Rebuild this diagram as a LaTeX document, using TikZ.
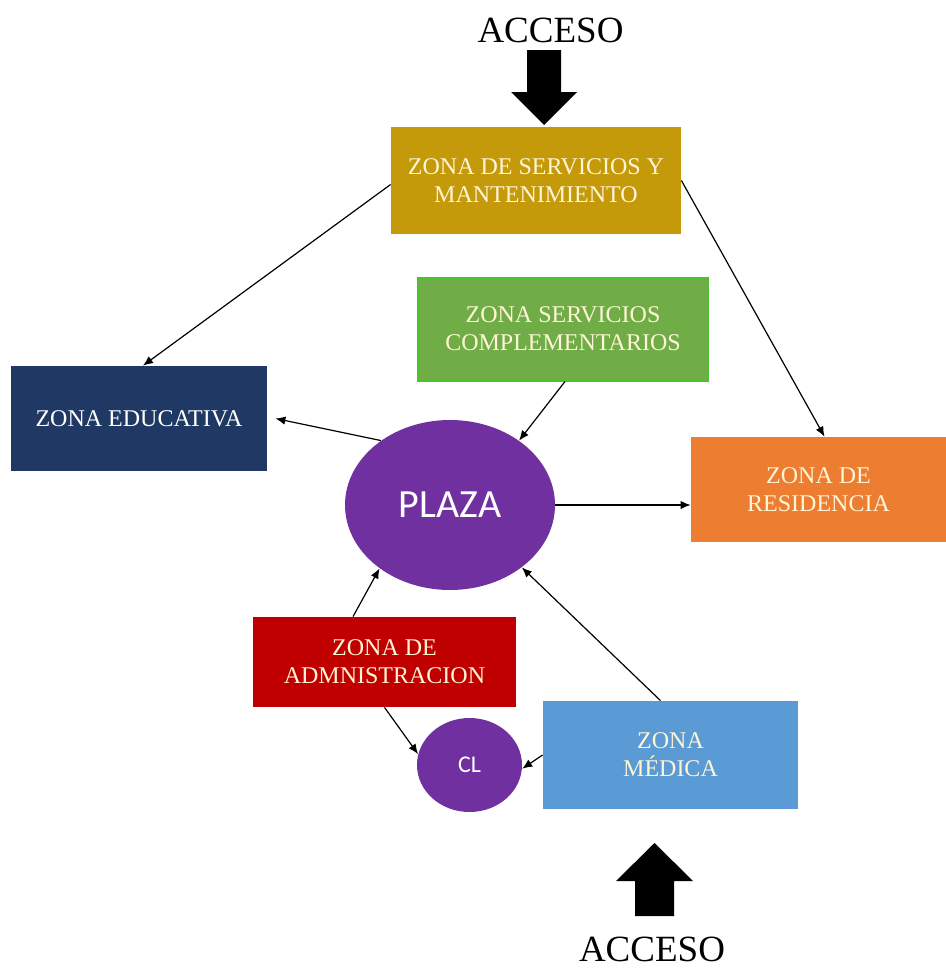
\documentclass[tikz,border=0pt]{standalone}
\usepackage{fontspec}
\setmainfont{Liberation Serif}
\newfontfamily\plazafont{Carlito}
\usetikzlibrary{shapes.geometric,arrows.meta}

\definecolor{zgold}{HTML}{C49A0A}
\definecolor{zgreen}{HTML}{70AD47}
\definecolor{zgreenline}{HTML}{4EC22E}
\definecolor{znavy}{HTML}{203864}
\definecolor{zorange}{HTML}{ED7D31}
\definecolor{zred}{HTML}{C00000}
\definecolor{zblue}{HTML}{5B9BD5}
\definecolor{zpurple}{HTML}{7030A0}
\definecolor{ztext}{HTML}{FFF4D6}

\tikzset{
  zone/.style={rectangle, draw=none, inner sep=0pt, align=center,
    text=ztext, font=\fontsize{12}{14}\selectfont},
  hub/.style={ellipse, fill=zpurple, draw=none, inner sep=0pt,
    text=white},
  link/.style={draw=black, line width=0.6pt,
    -{Latex[length=5pt,width=4.2pt]}},
  access/.style={fill=black},
  accesstext/.style={font=\fontsize{18.5}{20}\selectfont, anchor=base}
}

\begin{document}
\begin{tikzpicture}[x=0.5pt, y=-0.5pt]
  \useasboundingbox (0,0) rectangle (946,969);

  % zones
  \node[zone, fill=zgold, minimum width=145pt, minimum height=53.5pt]
    (serv) at (536,180.5) {ZONA DE SERVICIOS Y\\MANTENIMIENTO};
  \node[zone, fill=zgreen, draw=zgreenline, line width=1pt,
    minimum width=145pt, minimum height=51.5pt]
    (comp) at (563,329) {ZONA SERVICIOS\\COMPLEMENTARIOS};
  \node[zone, fill=znavy, text=white, minimum width=128pt, minimum height=52.5pt]
    (edu) at (139,418.5) {ZONA EDUCATIVA};
  \node[zone, fill=zorange, minimum width=127.5pt, minimum height=52.5pt]
    (res) at (818.5,489.5) {ZONA DE\\RESIDENCIA};
  \node[zone, fill=zred, minimum width=131.5pt, minimum height=45pt]
    (adm) at (384.5,662) {ZONA DE\\ADMNISTRACION};
  \node[zone, fill=zblue, minimum width=127.5pt, minimum height=54pt]
    (med) at (670.5,755) {ZONA\\MÉDICA};

  % hubs
  \node[hub, minimum width=105pt, minimum height=85pt,
    font=\plazafont\fontsize{20}{22}\selectfont] (plaza) at (450,505) {PLAZA};
  \node[hub, minimum width=52.5pt, minimum height=47pt,
    font=\plazafont\fontsize{12}{13}\selectfont] (cl) at (469.5,765) {CL};

  % links
  \draw[link] ([yshift=-2pt]serv.west) -- ([xshift=2pt]edu.north);
  \draw[link] (serv.east) -- ([xshift=3pt]res.north);
  \draw[link] ([xshift=1pt]comp.south) -- (plaza.43);
  \draw[link] (plaza.137) -- ([xshift=4pt]edu.east);
  \draw[link] (plaza.east) -- (plaza.east -| res.west);
  \draw[link] ([xshift=-15.75pt]adm.north) -- (plaza.222);
  \draw[link] ([xshift=-5pt]med.north) -- (plaza.319);
  \draw[link] (adm.south) -- (cl.168);
  \draw[link] (med.west) -- (cl.356);

  % accesses
  \node[accesstext] (acctop) at (550.5,42) {ACCESO};
  \fill[access] (527,50) -- (561,50) -- (561,92) -- (577,92) -- (544,125)
    -- (511,92) -- (527,92) -- cycle;
  \fill[access] (635,916) -- (674,916) -- (674,881) -- (693,881) -- (654.5,843)
    -- (616,881) -- (635,881) -- cycle;
  \node[accesstext] (accbot) at (652,961) {ACCESO};
\end{tikzpicture}
\end{document}
